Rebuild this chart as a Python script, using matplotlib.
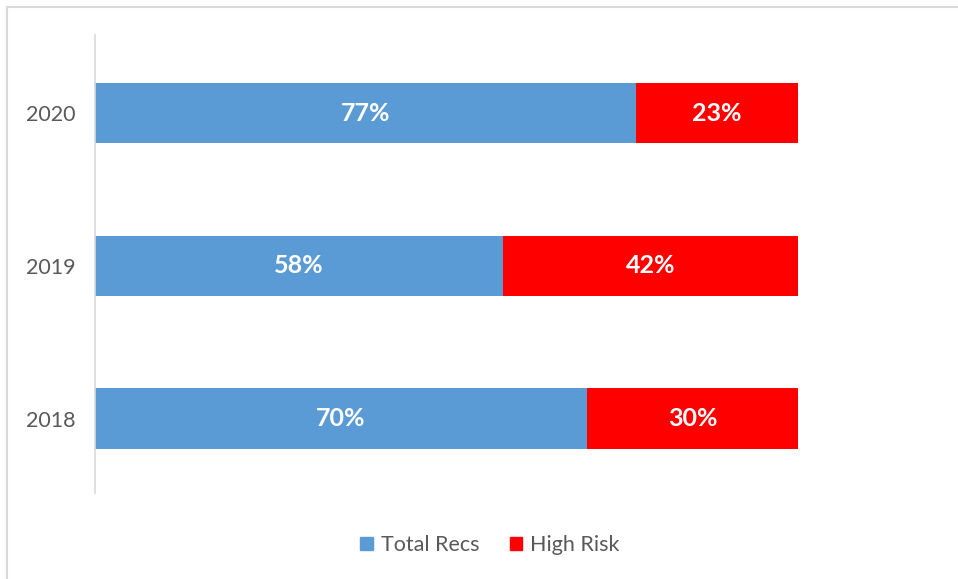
import matplotlib.pyplot as plt
from matplotlib.patches import Patch
from matplotlib.lines import Line2D

years = ['2018', '2019', '2020']
total_recs = [70, 58, 77]
high_risk = [30, 42, 23]

blue = '#5B9BD5'
red = '#FF0000'

plt.rcParams['font.family'] = ['Lato', 'DejaVu Sans']

fig = plt.figure(figsize=(9.58, 5.79), dpi=100)
ax = fig.add_axes([95 / 958, 86 / 579, 703 / 958, 458 / 579])

pos = range(len(years))
ax.barh(pos, total_recs, height=0.395, color=blue)
ax.barh(pos, high_risk, left=total_recs, height=0.395, color=red)

for i, (a, b) in enumerate(zip(total_recs, high_risk)):
    ax.text(a / 2, i, f'{a}%', ha='center', va='center', color='white',
            fontsize=18, fontweight='bold')
    ax.text(a + b / 2, i, f'{b}%', ha='center', va='center', color='white',
            fontsize=18, fontweight='bold')

ax.set_xlim(0, 100)
ax.set_ylim(-0.487, 2.513)
ax.set_yticks(list(pos))
ax.set_yticklabels(years, fontsize=15.5, color='#595959')
ax.tick_params(axis='y', length=0, pad=14)
ax.set_xticks([])
for side in ['top', 'right', 'bottom']:
    ax.spines[side].set_visible(False)
ax.spines['left'].set_color('#d9d9d9')
ax.spines['left'].set_linewidth(1.2)

# outer chart border (top and left visible)
fig.add_artist(Line2D([7 / 958, 1], [1 - 7 / 579, 1 - 7 / 579],
                      transform=fig.transFigure, color='#d9d9d9', lw=1.5))
fig.add_artist(Line2D([7 / 958, 7 / 958], [0, 1 - 7 / 579],
                      transform=fig.transFigure, color='#d9d9d9', lw=1.5))

handles = [Patch(color=blue, label='Total Recs'), Patch(color=red, label='High Risk')]
leg = fig.legend(handles=handles, loc='center', bbox_to_anchor=(490 / 958, 1 - 545 / 579),
                 ncol=2, frameon=False, fontsize=15.5, handlelength=0.6, handleheight=0.6,
                 handletextpad=0.35, columnspacing=1.4)
for t in leg.get_texts():
    t.set_color('#595959')

fig.savefig('out.png', dpi=100)
